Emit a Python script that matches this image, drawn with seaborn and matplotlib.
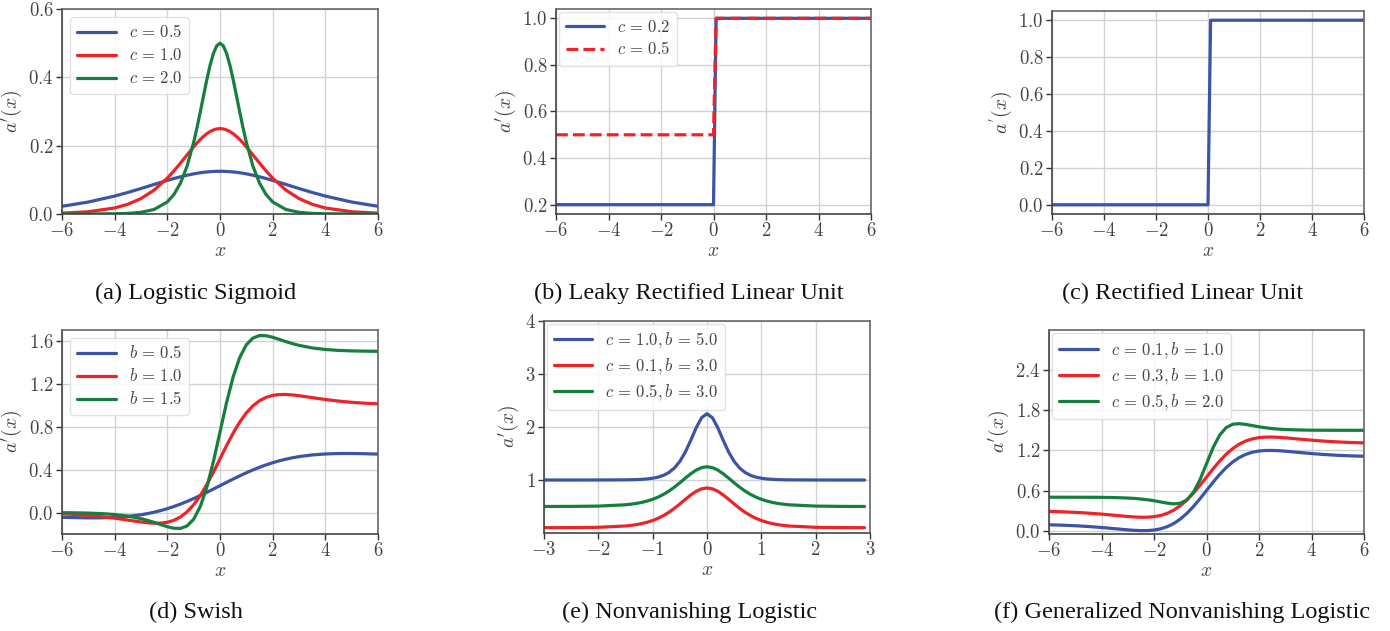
import matplotlib
matplotlib.use("Agg")
import matplotlib.pyplot as plt
import seaborn as sns
from matplotlib.ticker import FuncFormatter, FixedLocator

# ---------------- data ----------------
# (a) Logistic sigmoid derivative
xa = [-6, -5, -4, -3.5, -3, -2.5, -2, -1.75, -1.5, -1.25, -1, -0.875, -0.75, -0.625, -0.5,
      -0.375, -0.25, -0.125, 0, 0.125, 0.25, 0.375, 0.5, 0.625, 0.75, 0.875, 1, 1.25, 1.5,
      1.75, 2, 2.5, 3, 3.5, 4, 5, 6]
ya_c05 = [0.0226, 0.0350, 0.0525, 0.0630, 0.0746, 0.0866, 0.0983, 0.1038, 0.1089, 0.1135,
          0.1175, 0.1192, 0.1207, 0.1220, 0.1230, 0.1239, 0.1245, 0.1249, 0.125, 0.1249,
          0.1245, 0.1239, 0.1230, 0.1220, 0.1207, 0.1192, 0.1175, 0.1135, 0.1089, 0.1038,
          0.0983, 0.0866, 0.0746, 0.0630, 0.0525, 0.0350, 0.0226]
ya_c10 = [0.0025, 0.0066, 0.0177, 0.0285, 0.0452, 0.0701, 0.1050, 0.1261, 0.1491, 0.1731,
          0.1966, 0.2077, 0.2179, 0.2271, 0.2350, 0.2414, 0.2461, 0.2490, 0.25, 0.2490,
          0.2461, 0.2414, 0.2350, 0.2271, 0.2179, 0.2077, 0.1966, 0.1731, 0.1491, 0.1261,
          0.1050, 0.0701, 0.0452, 0.0285, 0.0177, 0.0066, 0.0025]
ya_c20 = [0.0, 0.0001, 0.0007, 0.0018, 0.0049, 0.0133, 0.0354, 0.0570, 0.0904, 0.1402,
          0.2100, 0.2522, 0.2982, 0.3462, 0.3932, 0.4358, 0.4700, 0.4922, 0.5, 0.4922,
          0.4700, 0.4358, 0.3932, 0.3462, 0.2982, 0.2522, 0.2100, 0.1402, 0.0904, 0.0570,
          0.0354, 0.0133, 0.0049, 0.0018, 0.0007, 0.0001, 0.0]

# (b) Leaky ReLU derivative
xb = [-6, 0.0, 0.1, 6]
yb_c02 = [0.2, 0.2, 1.0, 1.0]
yb_c05 = [0.5, 0.5, 1.0, 1.0]

# (c) ReLU derivative
xc = [-6, 0.0, 0.1, 6]
yc = [0.0, 0.0, 1.0, 1.0]

# (d) Swish derivative
xd = [-6, -5.5, -5, -4.5, -4, -3.5, -3, -2.75, -2.5, -2.25, -2, -1.75, -1.5, -1.25, -1,
      -0.75, -0.5, -0.25, 0, 0.25, 0.5, 0.75, 1, 1.25, 1.5, 1.75, 2, 2.25, 2.5, 2.75, 3,
      3.5, 4, 4.5, 5, 5.5, 6]
yd_b05 = [-0.0441, -0.0477, -0.0498, -0.0494, -0.0454, -0.0364, -0.0207, -0.0099, 0.0031,
          0.0185, 0.0361, 0.0562, 0.0787, 0.1033, 0.1300, 0.1584, 0.1881, 0.2188, 0.25,
          0.2812, 0.3119, 0.3416, 0.3700, 0.3967, 0.4213, 0.4438, 0.4639, 0.4815, 0.4969,
          0.5099, 0.5207, 0.5364, 0.5454, 0.5494, 0.5498, 0.5477, 0.5441]
yd_b10 = [-0.0123, -0.0182, -0.0265, -0.0380, -0.0527, -0.0703, -0.0881, -0.0953, -0.0995,
          -0.0987, -0.0908, -0.0727, -0.0413, 0.0063, 0.0723, 0.1574, 0.2600, 0.3763, 0.5,
          0.6237, 0.7400, 0.8426, 0.9277, 0.9937, 1.0413, 1.0727, 1.0908, 1.0987, 1.0995,
          1.0953, 1.0881, 1.0703, 1.0527, 1.0380, 1.0265, 1.0182, 1.0123]
yd_b15 = [-0.0015, -0.0029, -0.0054, -0.0100, -0.0185, -0.0330, -0.0570, -0.0731, -0.0918,
          -0.1124, -0.1322, -0.1466, -0.1480, -0.1248, -0.0620, 0.0555, 0.2361, 0.4752, 0.75,
          1.0248, 1.2639, 1.4445, 1.5620, 1.6248, 1.6480, 1.6466, 1.6322, 1.6124, 1.5918,
          1.5731, 1.5570, 1.5330, 1.5185, 1.5100, 1.5054, 1.5029, 1.5015]

# (e) Nonvanishing logistic derivative
xe = [-3, -2.5, -2, -1.5, -1.4, -1.3, -1.2, -1.1, -1.0, -0.9, -0.8, -0.7, -0.6, -0.5, -0.4,
      -0.3, -0.2, -0.1, 0.0, 0.1, 0.2, 0.3, 0.4, 0.5, 0.6, 0.7, 0.8, 0.9, 1.0, 1.1, 1.2, 1.3,
      1.4, 1.5, 2, 2.5, 2.9]
ye_c10_b50 = [1.0, 1.0, 1.0002, 1.0028, 1.0046, 1.0075, 1.0124, 1.0203, 1.0333, 1.0544,
              1.0885, 1.1425, 1.2260, 1.3505, 1.5250, 1.7455, 1.9830, 2.1750, 2.25, 2.1750,
              1.9830, 1.7455, 1.5250, 1.3505, 1.2260, 1.1425, 1.0885, 1.0544, 1.0333, 1.0203,
              1.0124, 1.0075, 1.0046, 1.0028, 1.0002, 1.0, 1.0]
ye_c01_b30 = [0.1004, 0.1017, 0.1074, 0.1326, 0.1437, 0.1582, 0.1777, 0.2030, 0.2356, 0.2771,
              0.3289, 0.3916, 0.4653, 0.5473, 0.6337, 0.7166, 0.7863, 0.8336, 0.85, 0.8336,
              0.7863, 0.7166, 0.6337, 0.5473, 0.4653, 0.3916, 0.3289, 0.2771, 0.2356, 0.2030,
              0.1777, 0.1582, 0.1437, 0.1326, 0.1074, 0.1017, 0.1005]
ye_c05_b30 = [0.5004, 0.5017, 0.5074, 0.5326, 0.5437, 0.5582, 0.5777, 0.6030, 0.6356, 0.6771,
              0.7289, 0.7916, 0.8653, 0.9473, 1.0337, 1.1166, 1.1863, 1.2336, 1.25, 1.2336,
              1.1863, 1.1166, 1.0337, 0.9473, 0.8653, 0.7916, 0.7289, 0.6771, 0.6356, 0.6030,
              0.5777, 0.5582, 0.5437, 0.5326, 0.5074, 0.5017, 0.5005]

# (f) Generalized nonvanishing logistic derivative
xf = xd
yf_c01_b1 = [0.0877, 0.0818, 0.0735, 0.0620, 0.0473, 0.0297, 0.0119, 0.0047, 0.0005, 0.0013,
             0.0092, 0.0273, 0.0587, 0.1063, 0.1723, 0.2574, 0.3600, 0.4763, 0.6, 0.7237,
             0.8400, 0.9426, 1.0277, 1.0937, 1.1413, 1.1727, 1.1908, 1.1987, 1.1995, 1.1953,
             1.1881, 1.1703, 1.1527, 1.1380, 1.1265, 1.1182, 1.1123]
yf_c03_b1 = [0.2877, 0.2818, 0.2735, 0.2620, 0.2473, 0.2297, 0.2119, 0.2047, 0.2005, 0.2013,
             0.2092, 0.2273, 0.2587, 0.3063, 0.3723, 0.4574, 0.5600, 0.6763, 0.8, 0.9237,
             1.0400, 1.1426, 1.2277, 1.2937, 1.3413, 1.3727, 1.3908, 1.3987, 1.3995, 1.3953,
             1.3881, 1.3703, 1.3527, 1.3380, 1.3265, 1.3182, 1.3123]
yf_c05_b2 = [0.4999, 0.4998, 0.4995, 0.4990, 0.4977, 0.4945, 0.4877, 0.4818, 0.4735, 0.4620,
             0.4473, 0.4297, 0.4119, 0.4005, 0.4092, 0.4587, 0.5723, 0.7600, 1.0, 1.2400,
             1.4277, 1.5413, 1.5908, 1.5995, 1.5881, 1.5703, 1.5527, 1.5380, 1.5265, 1.5182,
             1.5123, 1.5055, 1.5023, 1.5010, 1.5005, 1.5002, 1.5001]

captions = ["(a) Logistic Sigmoid", "(b) Leaky Rectified Linear Unit", "(c) Rectified Linear Unit",
            "(d) Swish", "(e) Nonvanishing Logistic", "(f) Generalized Nonvanishing Logistic"]

# ---------------- style ----------------
sns.set_theme(style="whitegrid")
plt.rcParams["font.family"] = ["DejaVu Serif"]
plt.rcParams["mathtext.fontset"] = "cm"
plt.rcParams["axes.unicode_minus"] = True

BLUE = "#3b54a5"
RED = "#ee2328"
GREEN = "#177f3e"
LW = 2.3
TXT = "#444444"

W, H = 1390, 631
fig = plt.figure(figsize=(W / 100, H / 100), dpi=100)


def add_ax(left, right, top, bottom):
    return fig.add_axes([left / W, (H - bottom) / H, (right - left) / W, (bottom - top) / H])


def fmt(decimals):
    return FuncFormatter(lambda v, p: f"${v:.{decimals}f}$")


def style(ax, xlim, xticks, ylim, yticks, ydec, xdec=0, ylabel=r"$a'(x)$"):
    ax.set_xlim(*xlim)
    ax.set_ylim(*ylim)
    ax.xaxis.set_major_locator(FixedLocator(xticks))
    ax.yaxis.set_major_locator(FixedLocator(yticks))
    ax.xaxis.set_major_formatter(fmt(xdec))
    ax.yaxis.set_major_formatter(fmt(ydec))
    ax.tick_params(axis="both", which="major", labelsize=13.5, labelcolor=TXT, color="#333333",
                   direction="out", length=4, width=1.0, pad=2,
                   left=True, bottom=True, right=False, top=False)
    ax.grid(True, color="#d2d2d2", linewidth=1.0)
    for side, sp in ax.spines.items():
        sp.set_visible(True)
        sp.set_linewidth(1.2)
        sp.set_color("#444444" if side in ("left", "bottom") else "#666666")
    ax.set_xlabel(r"$x$", fontsize=14, color=TXT, labelpad=1)
    ax.set_ylabel(ylabel, fontsize=14, color=TXT, labelpad=3)


def legend(ax, pad=0.5):
    leg = ax.legend(loc="upper left", fontsize=12, handlelength=2.3, handletextpad=0.8,
                    borderpad=0.42, labelspacing=0.36, frameon=True, fancybox=True,
                    framealpha=0.85, edgecolor="#dddddd", borderaxespad=pad)
    for t in leg.get_texts():
        t.set_color(TXT)


# (a)
ax = add_ax(62, 378, 9, 214)
sns.lineplot(x=xa, y=ya_c05, ax=ax, color=BLUE, lw=LW, label=r"$c\,=\,0.5$", estimator=None)
sns.lineplot(x=xa, y=ya_c10, ax=ax, color=RED, lw=LW, label=r"$c\,=\,1.0$", estimator=None)
sns.lineplot(x=xa, y=ya_c20, ax=ax, color=GREEN, lw=LW, label=r"$c\,=\,2.0$", estimator=None)
style(ax, (-6, 6), [-6, -4, -2, 0, 2, 4, 6], (0, 0.6), [0, 0.2, 0.4, 0.6], 1)
legend(ax, 0.5)

# (b)
ax = add_ax(556, 871, 9, 214)
sns.lineplot(x=xb, y=yb_c02, ax=ax, color=BLUE, lw=LW, label=r"$c\,=\,0.2$", estimator=None, sort=False)
sns.lineplot(x=xb, y=yb_c05, ax=ax, color=RED, lw=LW, label=r"$c\,=\,0.5$", estimator=None, sort=False)
ax.lines[1].set_linestyle("--")
style(ax, (-6, 6), [-6, -4, -2, 0, 2, 4, 6], (0.16, 1.04), [0.2, 0.4, 0.6, 0.8, 1.0], 1)
legend(ax, 0.15)

# (c)
ax = add_ax(1052, 1364, 11, 214)
sns.lineplot(x=xc, y=yc, ax=ax, color=BLUE, lw=LW, estimator=None, sort=False)
style(ax, (-6, 6), [-6, -4, -2, 0, 2, 4, 6], (-0.05, 1.05), [0, 0.2, 0.4, 0.6, 0.8, 1.0], 1,
      ylabel=r"$a^{'}(x)$")

# (d)
ax = add_ax(62, 378, 330, 534)
sns.lineplot(x=xd, y=yd_b05, ax=ax, color=BLUE, lw=LW, label=r"$b\,=\,0.5$", estimator=None)
sns.lineplot(x=xd, y=yd_b10, ax=ax, color=RED, lw=LW, label=r"$b\,=\,1.0$", estimator=None)
sns.lineplot(x=xd, y=yd_b15, ax=ax, color=GREEN, lw=LW, label=r"$b\,=\,1.5$", estimator=None)
style(ax, (-6, 6), [-6, -4, -2, 0, 2, 4, 6], (-0.2, 1.7), [0, 0.4, 0.8, 1.2, 1.6], 1)
legend(ax, 0.5)

# (e)
ax = add_ax(544, 870, 321, 533)
sns.lineplot(x=xe, y=ye_c10_b50, ax=ax, color=BLUE, lw=LW, label=r"$c\,=\,1.0,b\,=\,5.0$", estimator=None)
sns.lineplot(x=xe, y=ye_c01_b30, ax=ax, color=RED, lw=LW, label=r"$c\,=\,0.1,b\,=\,3.0$", estimator=None)
sns.lineplot(x=xe, y=ye_c05_b30, ax=ax, color=GREEN, lw=LW, label=r"$c\,=\,0.5,b\,=\,3.0$", estimator=None)
style(ax, (-3, 3), [-3, -2, -1, 0, 1, 2, 3], (0.0, 4.0), [1, 2, 3, 4], 0)
legend(ax, 0.15)

# (f)
ax = add_ax(1049, 1364, 330, 534)
sns.lineplot(x=xf, y=yf_c01_b1, ax=ax, color=BLUE, lw=LW, label=r"$c\,=\,0.1,b\,=\,1.0$", estimator=None)
sns.lineplot(x=xf, y=yf_c03_b1, ax=ax, color=RED, lw=LW, label=r"$c\,=\,0.3,b\,=\,1.0$", estimator=None)
sns.lineplot(x=xf, y=yf_c05_b2, ax=ax, color=GREEN, lw=LW, label=r"$c\,=\,0.5,b\,=\,2.0$", estimator=None)
style(ax, (-6, 6), [-6, -4, -2, 0, 2, 4, 6], (-0.05, 3.0), [0, 0.6, 1.2, 1.8, 2.4], 1)
legend(ax, 0.2)

# captions
cap_pos = [(196, 293), (689, 293), (1183, 293), (196, 612), (690, 612), (1182, 612)]
for text, (cx, cy) in zip(captions, cap_pos):
    fig.text(cx / W, 1 - cy / H, text, ha="center", va="center", fontsize=17.5,
             family="Liberation Serif", color="#111111")

fig.savefig("out.png", dpi=100)
